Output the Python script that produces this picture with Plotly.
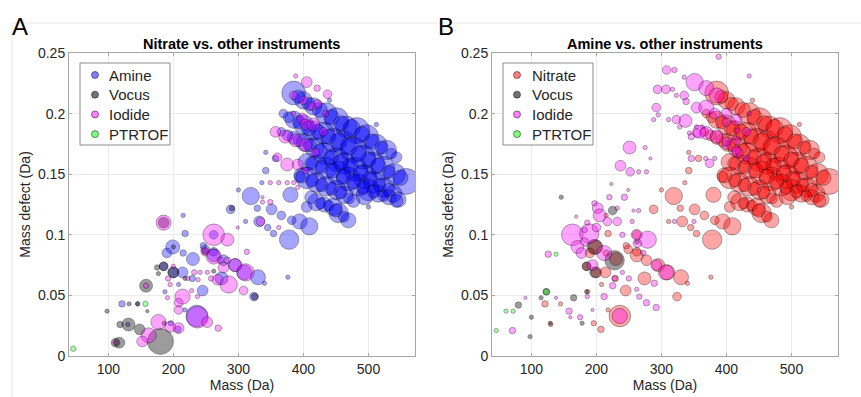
import plotly.graph_objects as go

# ---------------- data (mass [Da], mass defect [Da], marker diameter [px]) ----------------
# compounds seen by both Nitrate and Amine (blue in A, red in B)
nitrate_amine = [
    (385,0.217,22),(400,0.211,16),(415,0.206,16),(435,0.200,20),(451,0.195,22),(466,0.189,20),
    (482,0.186,24),(497,0.181,22),(512,0.174,20),(528,0.170,18),(543,0.164,10),
    (369,0.200,8),(385,0.195,16),(400,0.191,18),(415,0.186,18),(431,0.184,20),(446,0.178,22),
    (462,0.176,22),(477,0.170,24),(492,0.164,22),(508,0.159,20),(522,0.155,22),(540,0.150,20),(558,0.144,24),
    (366,0.185,8),(385,0.180,12),(402,0.176,16),(417,0.172,18),(432,0.167,20),(451,0.162,22),
    (463,0.159,20),(480,0.154,22),(494,0.148,22),(509,0.143,20),(524,0.139,18),(538,0.134,16),(546,0.129,14),
    (405,0.160,16),(420,0.158,18),(435,0.155,20),(454,0.151,22),(469,0.146,22),(485,0.141,20),
    (500,0.137,20),(515,0.134,16),(531,0.131,14),(543,0.128,12),
    (397,0.149,14),(405,0.147,20),(420,0.143,18),(435,0.140,18),(451,0.137,18),(463,0.133,16),
    (477,0.128,12),(494,0.132,16),
    (405,0.123,10),(412,0.131,12),(420,0.127,16),(432,0.125,14),(446,0.123,16),(454,0.118,18),(469,0.112,14),
    (394,0.111,14),(409,0.107,16),(382,0.112,8),(366,0.116,8),(351,0.121,10),(380,0.133,14),
    (394,0.148,10),(378,0.096,18),(319,0.132,16),(332,0.111,10),(345,0.106,6),(354,0.101,6),
    (329,0.122,6),(311,0.111,4),(288,0.121,8),(300,0.137,4),(336,0.143,4),(342,0.168,4),
    (342,0.153,6),(357,0.163,6),(440,0.211,4),(512,0.191,4),(500,0.123,4),
    (330,0.065,14),(324,0.049,8),(340,0.060,4),(376,0.065,4),
    (262,0.100,8),(246,0.091,6),(230,0.080,12),(199,0.090,13),(190,0.085,9),(215,0.085,6),
    (185,0.074,8),(200,0.069,10),(214,0.069,10),(229,0.064,6),(245,0.054,10),(218,0.101,6),
    (215,0.116,4),(187,0.053,4),(121,0.043,6),(145,0.043,4),(196,0.027,5),(207,0.022,6),
    (130,0.026,4),(208,0.059,4),(218,0.038,4),(277,0.079,10),(262,0.086,8),(274,0.064,12),
    (236,0.033,20),(309,0.069,14),(295,0.075,12),(262,0.083,12),(249,0.088,8),
    # smaller compounds packed inside the high-mass bands
    (392,0.214,12),(408,0.208,12),(425,0.203,14),(443,0.197,14),(458,0.192,14),(474,0.188,16),
    (490,0.183,14),(505,0.177,14),(520,0.172,12),(535,0.167,10),
    (377,0.197,10),(393,0.193,12),(408,0.188,14),(423,0.185,14),(438,0.181,14),(454,0.177,16),
    (470,0.173,16),(485,0.167,14),(500,0.162,14),(515,0.157,14),(531,0.152,12),(549,0.147,14),
    (376,0.182,10),(394,0.178,12),(410,0.174,12),(425,0.169,14),(442,0.164,14),(457,0.160,14),
    (472,0.157,14),(488,0.151,14),(502,0.146,14),(517,0.141,12),(531,0.137,12),
    (412,0.159,12),(428,0.156,12),(445,0.153,14),(462,0.148,14),(477,0.144,14),(492,0.139,12),
    (508,0.136,12),(523,0.132,10),
    (413,0.145,12),(428,0.141,12),(443,0.138,12),(457,0.135,12),(470,0.130,10),
    (426,0.126,10),(439,0.124,10),(450,0.120,12),(462,0.115,10),
]

# Panel A (Nitrate vs. other instruments)
iodide_a = [
    (388,0.231,4),(405,0.226,10),(421,0.221,6),(437,0.216,8),(385,0.215,8),(400,0.211,8),
    (413,0.206,8),(422,0.208,8),(434,0.200,6),(385,0.200,4),(398,0.196,10),(403,0.191,10),
    (415,0.191,12),(431,0.185,8),(357,0.185,10),(372,0.181,12),(388,0.178,12),(403,0.174,12),
    (418,0.168,8),(360,0.164,8),(375,0.158,12),(391,0.158,10),(403,0.153,6),(349,0.143,4),
    (362,0.143,4),(375,0.143,4),(385,0.143,4),(391,0.139,4),(337,0.127,4),(349,0.127,5),
    (334,0.111,8),(362,0.106,4),(337,0.131,3),(299,0.106,3),(313,0.086,5),
    (185,0.110,14),(262,0.100,20),(283,0.096,12),(249,0.086,8),(262,0.082,14),(272,0.079,6),
    (283,0.079,6),(295,0.075,12),(311,0.069,16),(277,0.073,10),(285,0.059,16),(308,0.054,8),
    (268,0.063,10),(241,0.069,4),(252,0.069,4),(238,0.063,4),(237,0.049,4),(214,0.049,14),
    (208,0.044,8),(208,0.038,8),(237,0.032,20),(252,0.028,10),(269,0.023,6),(195,0.024,10),
    (208,0.023,10),(177,0.028,14),(162,0.017,14),(152,0.012,10),(192,0.064,5),(195,0.059,4),
    (191,0.048,4),(200,0.074,4),(158,0.058,5),(111,0.011,4),(228,0.054,4),(222,0.064,4),
    (232,0.069,5),(258,0.064,5),
]
vocus_a = [
    (98,0.037,4),(111,0.011,8),(117,0.011,10),(118,0.026,6),(131,0.026,12),(148,0.022,10),
    (132,0.043,4),(145,0.043,4),(160,0.037,3),(158,0.058,12),(180,0.012,24),(175,0.073,5),
    (185,0.074,8),(177,0.068,4),(200,0.069,10),(200,0.090,4),(218,0.064,4),(325,0.049,6),
    (290,0.122,5),(249,0.086,6),(262,0.070,4),(186,0.027,4),(185,0.110,10),
]
ptrtof_a = [(46,0.006,5),(157,0.043,5)]

# Panel B (Amine vs. other instruments)
iodide_b = [
    (388,0.247,5),(308,0.236,8),(320,0.236,5),(335,0.230,4),(351,0.226,16),(369,0.221,14),
    (385,0.215,14),(294,0.220,8),(307,0.220,8),(317,0.220,4),(323,0.215,4),(335,0.215,8),
    (338,0.210,6),(354,0.205,10),(369,0.205,14),(382,0.200,10),(292,0.205,8),(295,0.199,4),
    (288,0.195,4),(311,0.195,4),(323,0.195,8),(337,0.194,12),(328,0.189,4),(354,0.189,4),
    (363,0.189,4),(343,0.184,4),(355,0.184,8),(369,0.184,12),(385,0.181,12),(400,0.174,8),
    (417,0.168,10),(431,0.185,8),(435,0.200,4),(435,0.231,4),(400,0.200,10),(415,0.195,10),
    (400,0.193,8),(417,0.186,5),(400,0.177,8),(415,0.178,8),(415,0.170,8),(431,0.163,6),
    (358,0.185,12),(346,0.181,6),
    (251,0.172,12),(275,0.172,4),(283,0.163,3),(237,0.157,10),(252,0.152,8),(265,0.152,4),
    (277,0.152,4),(223,0.142,3),(249,0.137,3),(220,0.131,5),(243,0.131,6),(346,0.163,6),
    (368,0.163,4),(382,0.163,4),(374,0.159,8),
    (163,0.100,20),(189,0.101,18),(200,0.106,8),(186,0.110,5),(197,0.126,5),(202,0.122,10),
    (205,0.116,12),(217,0.111,8),(232,0.111,8),(169,0.115,3),(182,0.104,5),(182,0.094,8),
    (171,0.090,12),(177,0.085,10),(212,0.085,14),(194,0.075,10),(126,0.084,6),(138,0.048,3),
    (91,0.048,3),(71,0.021,6),(158,0.037,6),(160,0.032,3),(175,0.032,5),(186,0.049,4),
    (194,0.038,3),(212,0.049,6),(279,0.096,16),(263,0.093,8),(262,0.100,10),(289,0.060,6),
    (266,0.049,5),(292,0.040,6),(277,0.044,6),(307,0.069,14),(292,0.075,10),(236,0.033,14),
    (225,0.058,6),(228,0.064,5),(250,0.064,5),(240,0.069,4),(262,0.055,4),(272,0.085,5),
    (240,0.100,5),(255,0.111,4),(265,0.120,4),(320,0.111,4),(350,0.111,4),(232,0.122,4),
    (257,0.120,3),
]
vocus_b = [
    (146,0.131,4),(225,0.120,8),(228,0.079,18),(197,0.090,14),(185,0.074,8),(198,0.069,10),
    (115,0.048,4),(165,0.048,6),(80,0.042,6),(100,0.032,4),(98,0.016,4),(178,0.027,4),
    (129,0.027,4),(185,0.053,4),(123,0.053,6),(262,0.094,4),
]
ptrtof_b = [(138,0.084,4),(123,0.053,6),(61,0.037,4),(72,0.037,4),(46,0.021,4)]

legend_a = ["Amine", "Vocus", "Iodide", "PTRTOF"]
legend_b = ["Nitrate", "Vocus", "Iodide", "PTRTOF"]

x_ticks = [100, 200, 300, 400, 500]
y_ticks = [0, 0.05, 0.1, 0.15, 0.2, 0.25]
y_tick_labels = ["0", "0.05", "0.1", "0.15", "0.2", "0.25"]

COL = {
    "Amine": "rgba(0,0,255,0.5)",
    "Nitrate": "rgba(255,0,0,0.5)",
    "Vocus": "rgba(0,0,0,0.55)",
    "Iodide": "rgba(255,0,255,0.5)",
    "PTRTOF": "rgba(0,255,0,0.5)",
}
EDGE = "rgba(0,0,0,0.6)"
FONT = "Arial, Liberation Sans, sans-serif"
TXT = "#262626"
SIZE_SCALE = 1.08

W, H = 861, 397
ydom = [41 / H, 344 / H]
xdomA = [69 / W, 415 / W]
xdomB = [492 / W, 838 / W]

fig = go.Figure()


def add(pts, name, xa, ya):
    fig.add_trace(go.Scatter(
        x=[p[0] for p in pts], y=[p[1] for p in pts], mode="markers", name=name,
        xaxis=xa, yaxis=ya, showlegend=False,
        marker=dict(size=[p[2] * SIZE_SCALE for p in pts], sizemode="diameter", color=COL[name],
                    line=dict(color=EDGE, width=0.8)),
        hoverinfo="x+y+name",
    ))


add(nitrate_amine, "Amine", "x", "y")
add(vocus_a, "Vocus", "x", "y")
add(iodide_a, "Iodide", "x", "y")
add(ptrtof_a, "PTRTOF", "x", "y")

add(nitrate_amine, "Nitrate", "x2", "y2")
add(vocus_b, "Vocus", "x2", "y2")
add(iodide_b, "Iodide", "x2", "y2")
add(ptrtof_b, "PTRTOF", "x2", "y2")

axis_common = dict(
    showline=True, mirror="ticks", linecolor="#a6a6a6", linewidth=1,
    ticks="inside", ticklen=3, tickcolor="#a6a6a6",
    showgrid=True, gridcolor="#ebebeb", gridwidth=1, zeroline=False,
    tickfont=dict(family=FONT, size=14, color=TXT), automargin=False,
)
xt = dict(text="Mass (Da)", font=dict(family=FONT, size=14, color=TXT), standoff=4)
yt = dict(text="Mass defect (Da)", font=dict(family=FONT, size=14, color=TXT), standoff=4)

shapes = [
    dict(type="line", xref="paper", yref="paper", x0=12 / W, x1=1, y0=1 - 23 / H, y1=1 - 23 / H,
         line=dict(color="#e8e8e8", width=1)),
    dict(type="line", xref="paper", yref="paper", x0=12 / W, x1=12 / W, y0=0, y1=1 - 23 / H,
         line=dict(color="#e8e8e8", width=1)),
]
annotations = [
    dict(text="<b>Nitrate vs. other instruments</b>", x=(xdomA[0] + xdomA[1]) / 2, y=1 - 44 / H,
         xref="paper", yref="paper", showarrow=False, xanchor="center", yanchor="middle",
         font=dict(family=FONT, size=14.5, color="black")),
    dict(text="<b>Amine vs. other instruments</b>", x=(xdomB[0] + xdomB[1]) / 2, y=1 - 44 / H,
         xref="paper", yref="paper", showarrow=False, xanchor="center", yanchor="middle",
         font=dict(family=FONT, size=14.5, color="black")),
    dict(text="A", x=10 / W, y=1 - 26 / H, xref="paper", yref="paper", showarrow=False,
         xanchor="left", yanchor="middle", font=dict(family=FONT, size=24, color="black")),
    dict(text="B", x=436 / W, y=1 - 26 / H, xref="paper", yref="paper", showarrow=False,
         xanchor="left", yanchor="middle", font=dict(family=FONT, size=24, color="black")),
]

# legend boxes (drawn in pixel positions of the figure)
for names, bx, mx, tx in [(legend_a, 80, 95, 107), (legend_b, 503, 517, 530)]:
    shapes.append(dict(type="rect", xref="paper", yref="paper",
                       x0=bx / W, x1=(bx + 90) / W, y0=1 - 145 / H, y1=1 - 63 / H,
                       line=dict(color="#8c8c8c", width=1), fillcolor="white", layer="above"))
    for i, nm in enumerate(names):
        cy = 75 + i * 19.7
        shapes.append(dict(type="circle", xref="paper", yref="paper",
                           xsizemode="pixel", ysizemode="pixel",
                           xanchor=mx / W, yanchor=1 - cy / H,
                           x0=-3.5, x1=3.5, y0=-3.5, y1=3.5,
                           fillcolor=COL[nm], line=dict(color=EDGE, width=0.8), layer="above"))
        annotations.append(dict(text=nm, x=tx / W, y=1 - cy / H, xref="paper", yref="paper",
                                showarrow=False, xanchor="left", yanchor="middle",
                                font=dict(family=FONT, size=15, color=TXT)))

fig.update_layout(
    width=W, height=H,
    margin=dict(l=0, r=0, t=0, b=0),
    paper_bgcolor="white", plot_bgcolor="white",
    font=dict(family=FONT, color=TXT),
    showlegend=False,
    xaxis=dict(domain=xdomA, range=[39.5, 571.5], tickvals=x_ticks, anchor="y", title=xt, **axis_common),
    yaxis=dict(domain=ydom, range=[0, 0.25], tickvals=y_ticks, ticktext=y_tick_labels, anchor="x",
               title=yt, **axis_common),
    xaxis2=dict(domain=xdomB, range=[39.5, 571.5], tickvals=x_ticks, anchor="y2", title=xt, **axis_common),
    yaxis2=dict(domain=ydom, range=[0, 0.25], tickvals=y_ticks, ticktext=y_tick_labels, anchor="x2",
                title=yt, **axis_common),
    annotations=annotations,
    shapes=shapes,
)

fig.write_html("out.html", config={"displayModeBar": False},
               post_script="document.body.style.margin='0px';document.body.style.overflow='hidden';")
